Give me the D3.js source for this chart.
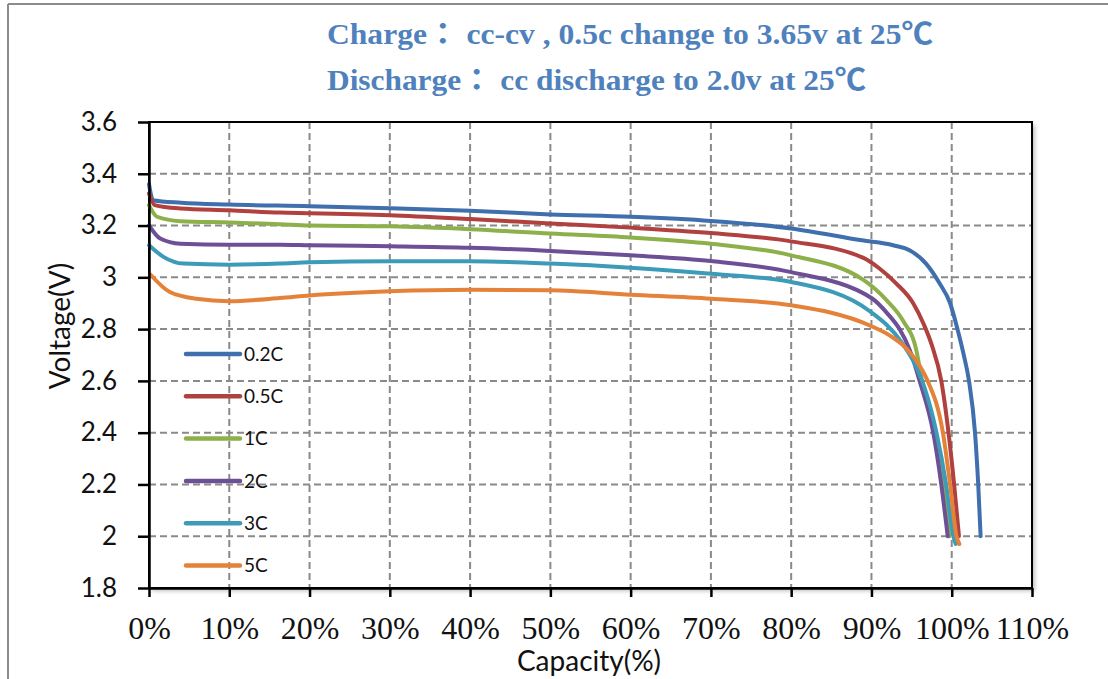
<!DOCTYPE html>
<html>
<head>
<meta charset="utf-8">
<script src="https://cdn.jsdelivr.net/npm/d3@7/dist/d3.min.js"></script>
<style>
  body { margin: 0; background: #fff; }
  svg { display: block; }
</style>
</head>
<body>
<svg id="chart"></svg>
<script>
// ---- data ----
const seriesNames = ["0.2C", "0.5C", "1C", "2C", "3C", "5C"];
const seriesColors = ["#3f6fad", "#b0413e", "#8db04b", "#6c4f95", "#3c9bb8", "#e5823a"];

const cap02 = [0, 0.5, 4, 10, 20, 30, 40, 50, 60, 70, 80, 88.8, 92.7, 94.8, 96.8, 98.5, 99.8, 100.8, 101.5, 102.15, 102.9, 103.3, 103.6];
const volt02 = [3.36, 3.298, 3.288, 3.281, 3.275, 3.267, 3.257, 3.243, 3.234, 3.218, 3.189, 3.143, 3.124, 3.104, 3.053, 2.976, 2.9, 2.79, 2.7, 2.6, 2.4, 2.2, 2.0];

const cap05 = [0, 0.7, 3.9, 10, 16.3, 20, 30, 40, 50, 60, 70, 80, 89, 91, 93.1, 95.2, 96.5, 97.5, 98.7, 99.6, 100.3, 100.9];
const volt05 = [3.324, 3.279, 3.266, 3.259, 3.25, 3.248, 3.24, 3.225, 3.208, 3.192, 3.171, 3.139, 3.075, 3.034, 2.976, 2.9, 2.82, 2.74, 2.6, 2.4, 2.2, 2.0];

const cap1 = [0, 1, 3.9, 10, 16.3, 20, 30, 40, 50, 60, 70, 80, 89, 91.9, 93.9, 95.6, 96.3, 97.8, 98.9, 99.7];
const volt1 = [3.279, 3.234, 3.217, 3.212, 3.205, 3.2, 3.197, 3.186, 3.169, 3.154, 3.13, 3.085, 2.99, 2.911, 2.834, 2.717, 2.6, 2.4, 2.2, 2.0];

const cap2 = [0, 1.4, 3.9, 10, 16.3, 20, 30, 40, 50, 60, 70, 80, 90, 92, 93.5, 94.8, 96, 97.7, 98.7, 99.5];
const volt2 = [3.201, 3.15, 3.13, 3.126, 3.126, 3.124, 3.12, 3.114, 3.102, 3.085, 3.063, 3.02, 2.92, 2.86, 2.8, 2.717, 2.6, 2.4, 2.2, 2.0];

const cap3 = [0, 1.8, 4.3, 10, 16.3, 20, 30, 40, 50, 60, 70, 80, 89.8, 93.9, 95.6, 96.6, 98.1, 99.3, 100.2, 100.5];
const volt3 = [3.124, 3.079, 3.053, 3.049, 3.053, 3.058, 3.062, 3.062, 3.053, 3.037, 3.014, 2.982, 2.869, 2.743, 2.653, 2.575, 2.4, 2.2, 2.0, 1.97];

const cap5 = [0.2, 2.6, 5.9, 10, 16.3, 20, 30, 40, 50, 60, 70, 80, 89.8, 92.3, 94.4, 96, 97, 98.9, 99.8, 100.6, 100.95];
const volt5 = [3.01, 2.943, 2.917, 2.908, 2.92, 2.93, 2.946, 2.952, 2.95, 2.933, 2.917, 2.892, 2.814, 2.775, 2.724, 2.659, 2.6, 2.4, 2.2, 2.0, 1.97];

const capacities = [cap02, cap05, cap1, cap2, cap3, cap5];
const voltages = [volt02, volt05, volt1, volt2, volt3, volt5];

const xTicks = [0, 10, 20, 30, 40, 50, 60, 70, 80, 90, 100, 110];
const yTicks = [1.8, 2.0, 2.2, 2.4, 2.6, 2.8, 3.0, 3.2, 3.4, 3.6];

const titleLines = [
  "Charge： cc-cv , 0.5c change to 3.65v at 25℃",
  "Discharge： cc discharge to 2.0v at 25℃"
];
const titleWidths = [606, 539];

// ---- layout ----
const W = 1108, H = 679;
const margin = { top: 122, right: 76, bottom: 91, left: 149 };
const width = W - margin.left - margin.right;
const height = H - margin.top - margin.bottom;

const root = d3.select("#chart").attr("width", W).attr("height", H);

// outer frame (only top/left edges visible in reference)
root.append("line").attr("x1", 8).attr("x2", W).attr("y1", 4).attr("y2", 4)
  .attr("stroke", "#8c8c8c").attr("stroke-width", 2);
root.append("line").attr("x1", 8).attr("x2", 8).attr("y1", 4).attr("y2", H)
  .attr("stroke", "#8c8c8c").attr("stroke-width", 2);

// title
root.append("g").selectAll("text")
  .data(titleLines)
  .enter()
  .append("text")
  .attr("x", 327)
  .attr("y", (d, i) => 44 + i * 46)
  .attr("textLength", (d, i) => titleWidths[i])
  .attr("lengthAdjust", "spacingAndGlyphs")
  .attr("fill", "#4f81bd")
  .style("font-family", "'Liberation Serif', 'Noto Sans CJK JP', serif")
  .style("font-weight", "bold")
  .style("font-size", "30px")
  .text((d) => d);

const defs = root.append("defs");
const shadow = defs.append("filter").attr("id", "shadow")
  .attr("x", "-5%").attr("y", "-5%").attr("width", "110%").attr("height", "110%");
shadow.append("feDropShadow").attr("dx", 3).attr("dy", 3).attr("stdDeviation", 2)
  .attr("flood-color", "#000").attr("flood-opacity", 0.25);

const svg = root.append("g").attr("transform", `translate(${margin.left},${margin.top})`);

svg.append("rect")
  .attr("width", width).attr("height", height)
  .attr("fill", "#fff")
  .attr("filter", "url(#shadow)");

const x = d3.scaleLinear().domain([0, 110]).range([0, width]);
const y = d3.scaleLinear().domain([1.8, 3.6]).range([height, 0]);

// grid
svg.append("g").attr("class", "grid")
  .selectAll("line")
  .data(yTicks.slice(1, -1))
  .enter()
  .append("line")
  .attr("x1", 0).attr("x2", width)
  .attr("y1", (d) => y(d)).attr("y2", (d) => y(d))
  .attr("stroke", "#8a8a8a").attr("stroke-width", 2)
  .attr("stroke-dasharray", "7,4");

svg.append("g").attr("class", "grid")
  .selectAll("line")
  .data(xTicks.slice(1, -1))
  .enter()
  .append("line")
  .attr("y1", 0).attr("y2", height)
  .attr("x1", (d) => x(d)).attr("x2", (d) => x(d))
  .attr("stroke", "#8a8a8a").attr("stroke-width", 2)
  .attr("stroke-dasharray", "7,4");

// frame top/right
svg.append("rect")
  .attr("width", width).attr("height", height)
  .attr("fill", "none").attr("stroke", "#000").attr("stroke-width", 2);

// lines
const line = d3.line()
  .x((d) => x(d[0]))
  .y((d) => y(d[1]))
  .curve(d3.curveMonotoneX);

seriesNames.forEach((name, i) => {
  const pts = capacities[i].map((c, j) => [c, voltages[i][j]]);
  svg.append("path")
    .datum(pts)
    .attr("fill", "none")
    .attr("stroke", seriesColors[i])
    .attr("stroke-width", 4)
    .attr("stroke-linejoin", "round")
    .attr("stroke-linecap", "round")
    .attr("d", line);
});

// X axis
const xAxis = svg.append("g")
  .attr("transform", `translate(0,${height})`)
  .call(d3.axisBottom(x).tickValues(xTicks).tickFormat((d) => d + "%").tickSize(9).tickPadding(19).tickSizeOuter(0));

// Y axis
const yAxis = svg.append("g")
  .call(d3.axisLeft(y).tickValues(yTicks).tickFormat((d) => String(+d.toFixed(1))).tickSize(11).tickPadding(21).tickSizeOuter(0));

xAxis.select("path").style("stroke", "#000").style("stroke-width", 2.5);
xAxis.selectAll("line").style("stroke", "#000").style("stroke-width", 2.5);
yAxis.select("path").style("stroke", "#000").style("stroke-width", 2.5);
yAxis.selectAll("line").style("stroke", "#000").style("stroke-width", 2.5);

xAxis.selectAll("text")
  .attr("fill", "#111")
  .style("font-family", "'Liberation Serif', serif")
  .style("font-size", "32px");
yAxis.selectAll("text")
  .attr("fill", "#111")
  .style("font-family", "Lato, sans-serif")
  .style("font-size", "26px");

// axis titles
root.append("text")
  .attr("x", 589).attr("y", 671)
  .attr("text-anchor", "middle")
  .attr("fill", "#111")
  .style("font-family", "Lato, sans-serif")
  .style("font-size", "28px")
  .text("Capacity(%)");

root.append("text")
  .attr("transform", "translate(70,326) rotate(-90)")
  .attr("text-anchor", "middle")
  .attr("fill", "#111")
  .style("font-family", "Lato, sans-serif")
  .style("font-size", "28px")
  .text("Voltage(V)");

// legend
const legend = svg.append("g")
  .selectAll("g")
  .data(seriesNames)
  .enter()
  .append("g")
  .attr("transform", (d, i) => `translate(37,${232 + i * 42.3})`);

legend.append("line")
  .attr("x1", 0).attr("x2", 54)
  .attr("stroke", (d, i) => seriesColors[i])
  .attr("stroke-width", 4.5)
  .attr("stroke-linecap", "round");

legend.append("text")
  .attr("x", 58).attr("dy", "0.35em")
  .attr("fill", "#111")
  .style("font-family", "Lato, sans-serif")
  .style("font-size", "19px")
  .text((d) => d);
</script>
</body>
</html>
